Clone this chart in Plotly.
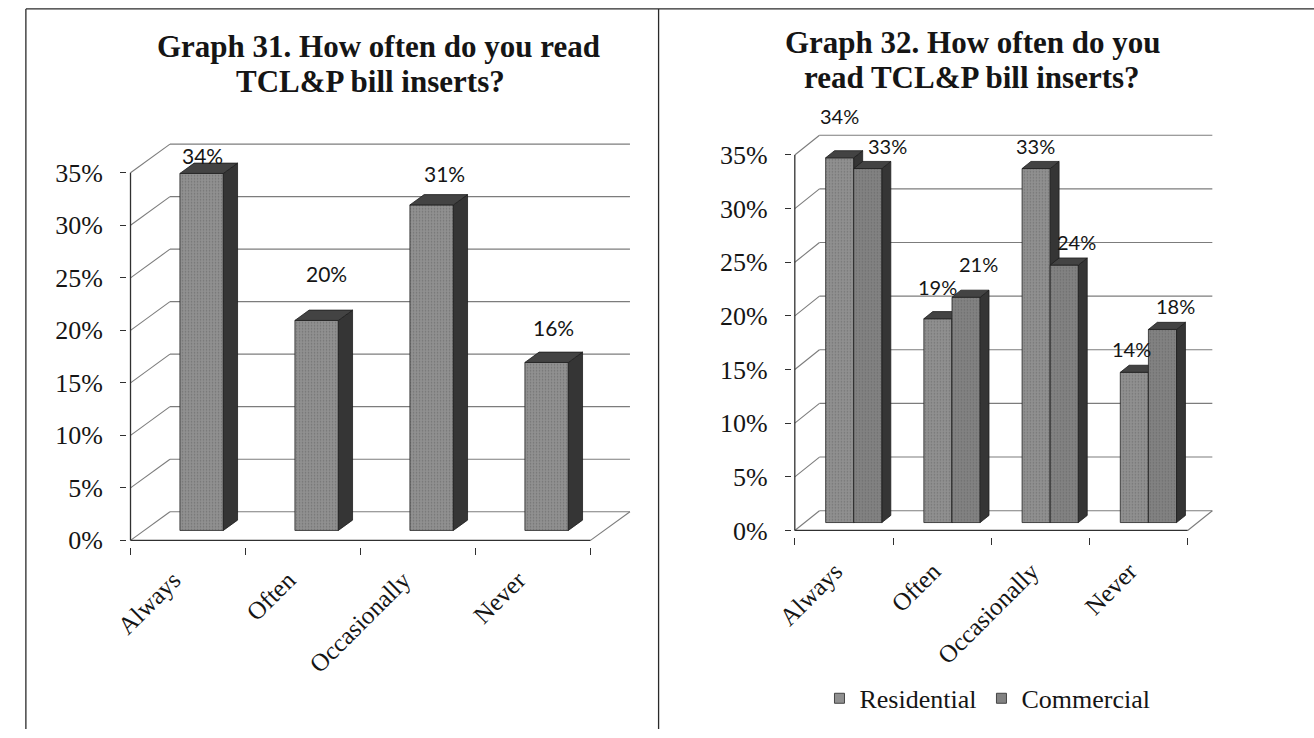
import plotly.graph_objects as go

# ---- data -------------------------------------------------------------
categories = ["Always", "Often", "Occasionally", "Never"]
all_customers = [34, 20, 31, 16]          # Graph 31
residential = [34, 19, 33, 14]            # Graph 32
commercial = [33, 21, 24, 18]             # Graph 32
y_ticks = [0, 5, 10, 15, 20, 25, 30, 35]
y_tick_text = ["0%", "5%", "10%", "15%", "20%", "25%", "30%", "35%"]
series_names = ["Residential", "Commercial"]

# ---- page geometry / style ------------------------------------------
W, H = 1314, 738
SERIF = "Liberation Serif"
SANS = "Lato"
INK = "#151515"
GRID = "#7c7c7c"
AXIS = "#303030"
FRONT_COLORS = ["#909090", "#828282"]
SIDE_COLOR = "#353535"
TOP_COLOR = "#434343"

# pixel anchors of each panel: front-left corner of the floor, category width,
# pixels per percent, oblique depth offset, bar placement inside the depth,
# and a nudge for the slanted category labels
PANELS = [
    dict(x0=115, catw=116.5, y0=547, ppp=10.63, ddx_px=40, ddy_px=29,
         front=0.345, depth=0.36, barw_px=44, label_dx_px=-15, label_standoff=13,
         xa="x", ya="y"),
    dict(x0=788, catw=99.5, y0=537, ppp=10.86, ddx_px=25, ddy_px=20,
         front=0.40, depth=0.36, barw_px=28.5, label_dx_px=-9, label_standoff=14,
         xa="x2", ya="y2"),
]
YMAX = 40

# label nudges (pixels: right, up) from the top-front centre of each bar
single_label_nudge = [(1, 18), (10, 47), (13, 31), (7, 35)]
res_label_nudge = [(0, 42), (0, 32), (-1, 23), (-3, 23)]
com_label_nudge = [(20, 23), (12, 33), (12, 23), (13, 23)]

fig = go.Figure()
annotations = []


def units(p):
    ddx = p["ddx_px"] / p["catw"]
    ddy = p["ddy_px"] / p["ppp"]
    w = p["barw_px"] / p["catw"]
    return ddx, ddy, w


def add_frame(p):
    ddx, ddy, _ = units(p)
    n = len(categories)
    # back wall gridlines
    gx, gy = [], []
    for v in y_ticks:
        gx += [ddx, n + ddx, None]
        gy += [v + ddy, v + ddy, None]
    # side wall diagonals
    for v in y_ticks:
        gx += [0, ddx, None]
        gy += [v, v + ddy, None]
    # right edge of the floor
    gx += [n, n + ddx, None]
    gy += [0, ddy, None]
    fig.add_trace(go.Scatter(x=gx, y=gy, mode="lines", xaxis=p["xa"], yaxis=p["ya"],
                             line=dict(color=GRID, width=1.1), hoverinfo="skip",
                             showlegend=False))
    # front axis lines
    fig.add_trace(go.Scatter(x=[0, 0, None, 0, n], y=[y_ticks[-1], 0, None, 0, 0],
                             mode="lines", xaxis=p["xa"], yaxis=p["ya"],
                             line=dict(color=AXIS, width=1.3), hoverinfo="skip",
                             showlegend=False))


def add_bars(p, values, offset_in_group, color, nudges, font_size):
    """Draw a series as 3-D boxes: front face, right side and top."""
    ddx, ddy, w = units(p)
    f, g = p["front"], p["depth"]
    base = f * ddy
    bdx, bdy = g * ddx, g * ddy
    fx, fy, sx, sy, tx, ty = [], [], [], [], [], []
    for i, v in enumerate(values):
        xl = i + 0.5 + f * ddx + offset_in_group * w
        xr = xl + w
        top = base + v
        fx += [xl, xr, xr, xl, xl, None]
        fy += [base, base, top, top, base, None]
        sx += [xr, xr + bdx, xr + bdx, xr, xr, None]
        sy += [base, base + bdy, top + bdy, top, base, None]
        tx += [xl, xr, xr + bdx, xl + bdx, xl, None]
        ty += [top, top, top + bdy, top + bdy, top, None]
        nx, ny = nudges[i]
        annotations.append(dict(
            x=(xl + xr) / 2, y=top, xref=p["xa"], yref=p["ya"],
            text=f"{v}%", showarrow=False, xshift=nx, yshift=ny,
            xanchor="center", yanchor="middle",
            font=dict(family=SANS, size=font_size, color=INK)))
    common = dict(mode="lines", fill="toself", xaxis=p["xa"], yaxis=p["ya"],
                  hoverinfo="skip", showlegend=False)
    fig.add_trace(go.Scatter(x=fx, y=fy, fillcolor=color,
                             fillpattern=dict(shape=".", bgcolor=color, fgcolor="#505050",
                                              size=3, solidity=0.2),
                             line=dict(color="#262626", width=0.8), **common))
    fig.add_trace(go.Scatter(x=sx, y=sy, fillcolor=SIDE_COLOR,
                             line=dict(color="#1e1e1e", width=0.8), **common))
    fig.add_trace(go.Scatter(x=tx, y=ty, fillcolor=TOP_COLOR,
                             line=dict(color="#1e1e1e", width=0.8), **common))


# Graph 31
p1 = PANELS[0]
add_frame(p1)
add_bars(p1, all_customers, -0.5, FRONT_COLORS[0], single_label_nudge, 21)

# Graph 32
p2 = PANELS[1]
add_frame(p2)
add_bars(p2, residential, -1.0, FRONT_COLORS[0], res_label_nudge, 20)
add_bars(p2, commercial, 0.0, FRONT_COLORS[1], com_label_nudge, 20)

# legend entries for Graph 32
for name, col in zip(series_names, FRONT_COLORS):
    fig.add_trace(go.Scatter(x=[None], y=[None], mode="markers", name=name,
                             xaxis="x2", yaxis="y2",
                             marker=dict(symbol="square", size=10, color=col,
                                         line=dict(color="#444444", width=1))))


def axis_pair(p):
    ddx, _, _ = units(p)
    n = len(categories)
    xlo, xhi = -0.03, n + ddx + 0.03
    ylo, yhi = -0.6, YMAX
    left = p["x0"] + xlo * p["catw"]
    right = p["x0"] + xhi * p["catw"]
    bottom = p["y0"] - ylo * p["ppp"]
    top = p["y0"] - yhi * p["ppp"]
    shift = p["label_dx_px"] / p["catw"]
    xaxis = dict(domain=[left / W, right / W], range=[xlo, xhi],
                 tickmode="array", tickvals=[i + 0.5 + shift for i in range(n)],
                 ticktext=categories, tickangle=-45, ticks="",
                 ticklabelstandoff=p["label_standoff"],
                 showgrid=False, zeroline=False, showline=False,
                 tickfont=dict(family=SERIF, size=25, color=INK),
                 minor=dict(tickmode="array", tickvals=list(range(n + 1)),
                            ticks="outside", ticklen=7, tickcolor=AXIS, tickwidth=1.2,
                            showgrid=False),
                 fixedrange=True)
    yaxis = dict(domain=[1 - bottom / H, 1 - top / H], range=[ylo, yhi],
                 tickmode="array", tickvals=y_ticks, ticktext=y_tick_text,
                 ticks="outside", ticklen=6, tickcolor=AXIS, tickwidth=1.2,
                 ticklabelstandoff=12,
                 showgrid=False, zeroline=False, showline=False,
                 tickfont=dict(family=SERIF, size=26, color=INK),
                 fixedrange=True)
    return xaxis, yaxis


xa1, ya1 = axis_pair(p1)
xa2, ya2 = axis_pair(p2)
ya1["anchor"] = "x"
xa1["anchor"] = "y"
ya2["anchor"] = "x2"
xa2["anchor"] = "y2"

# chart titles
title_lines = [
    ("Graph 31. How often do you read", 366, 47),
    ("TCL&P bill inserts?", 358, 83),
    ("Graph 32. How often do you", 968, 43),
    ("read TCL&P bill inserts?", 968, 78),
]
for txt, cx, cy in title_lines:
    annotations.append(dict(x=cx / W, y=1 - cy / H, xref="paper", yref="paper",
                            text=f"<b>{txt}</b>", showarrow=False,
                            xanchor="center", yanchor="middle",
                            font=dict(family=SERIF, size=31, color=INK)))

# frame lines around the two charts
frame = dict(type="line", xref="paper", yref="paper", line=dict(color="#2a2a2a", width=1.3))
shapes = [
    dict(frame, x0=9 / W, x1=9 / W, y0=0, y1=1 - 9 / H),
    dict(frame, x0=9 / W, x1=1, y0=1 - 9 / H, y1=1 - 9 / H),
    dict(frame, x0=650 / W, x1=650 / W, y0=0, y1=1 - 9 / H),
]

fig.update_layout(
    width=W, height=H,
    margin=dict(l=0, r=0, t=0, b=0),
    paper_bgcolor="white", plot_bgcolor="rgba(0,0,0,0)",
    xaxis=xa1, yaxis=ya1, xaxis2=xa2, yaxis2=ya2,
    annotations=annotations, shapes=shapes,
    showlegend=True,
    legend=dict(orientation="h", x=813 / W, y=1 - 707 / H,
                xanchor="left", yanchor="middle",
                font=dict(family=SERIF, size=26, color=INK),
                bgcolor="rgba(0,0,0,0)", itemclick=False,
                itemdoubleclick=False),
    hovermode=False,
)

fig.write_html("out.html", config=dict(displayModeBar=False))
